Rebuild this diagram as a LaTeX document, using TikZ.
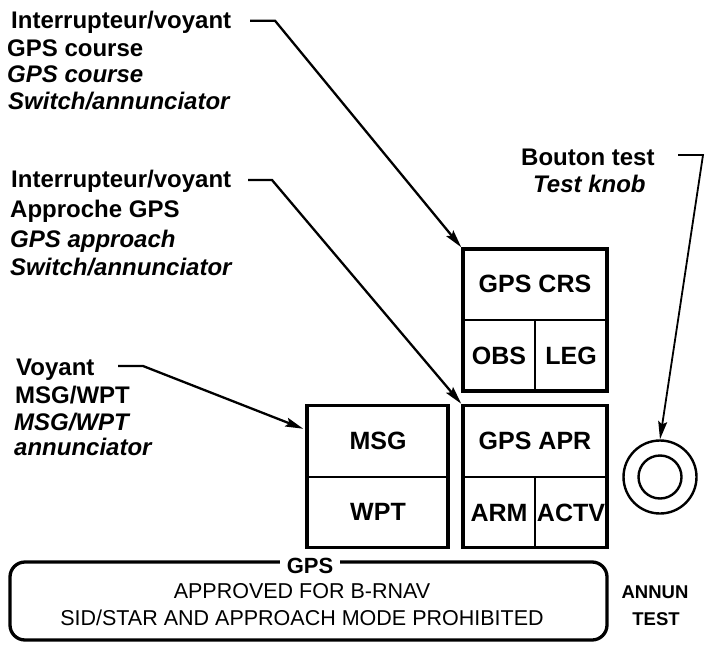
\documentclass[tikz,border=0pt]{standalone}
\usepackage{fontspec}
\setmainfont{Liberation Sans}
\usetikzlibrary{arrows.meta}
\begin{document}
\begin{tikzpicture}[x=1pt,y=-1pt,
  lbl/.style={anchor=base west,inner sep=0pt,font=\fontsize{24}{27}\selectfont\bfseries},
  lbli/.style={lbl,font=\fontsize{24}{27}\selectfont\bfseries\itshape},
  cell/.style={inner sep=0pt,font=\fontsize{25}{28}\selectfont\bfseries},
  unitbox/.style={draw,line width=3.5pt,minimum width=144pt,minimum height=142pt,inner sep=0pt},
  divider/.style={line width=2.2pt},
  lead/.style={line width=2.3pt,-{Stealth[length=18pt,width=9pt,inset=3pt]}},
  plate/.style={anchor=base,inner sep=0pt,font=\fontsize{21.5}{25}\selectfont},
]
\useasboundingbox (0,0) rectangle (708,644);

% labels
\node[lbl]  (l1a) at (11,29)    {Interrupteur/voyant};
\node[lbl]  (l1b) at (7,56.5)   {GPS course};
\node[lbli] (l1c) at (7,83)     {GPS course};
\node[lbli] (l1d) at (8,109.5)  {Switch/annunciator};

\node[lbl]  (l2a) at (11,188)   {Interrupteur/voyant};
\node[lbl]  (l2b) at (10,218)   {Approche GPS};
\node[lbli] (l2c) at (10,247)   {GPS approach};
\node[lbli] (l2d) at (10,275)   {Switch/annunciator};

\node[lbl]  (l3a) at (16,375)   {Voyant};
\node[lbl]  (l3b) at (15,403)   {MSG/WPT};
\node[lbli] (l3c) at (14,430)   {MSG/WPT};
\node[lbli] (l3d) at (14,455)   {annunciator};

\node[lbl]  (l4a) at (521,166)  {Bouton test};
\node[lbli] (l4b) at (533,193)  {Test knob};

% GPS CRS unit
\node[unitbox] (crs) at (535,320) {};
\draw[divider] (crs.west |- 0,320) -- (crs.east |- 0,320);
\draw[divider] (535,320) -- (crs.south -| 535,0);
\node[cell] (crsT) at (535,284) {GPS CRS};
\node[cell] (obs)  at (499,356) {OBS};
\node[cell] (leg)  at (571,356) {LEG};

% GPS APR unit
\node[unitbox] (apr) at (535,476.5) {};
\draw[divider] (apr.west |- 0,477) -- (apr.east |- 0,477);
\draw[divider] (535,477) -- (apr.south -| 535,0);
\node[cell] (aprT) at (535,441) {GPS APR};
\node[cell] (arm)  at (499,513) {ARM};
\node[cell] (actv) at (571,513) {ACTV};

% MSG / WPT unit
\node[unitbox,minimum width=141pt] (msg) at (377.5,476.5) {};
\draw[divider] (msg.west |- 0,477) -- (msg.east |- 0,477);
\node[cell] (msgT) at (378,441) {MSG};
\node[cell] (wpt)  at (378,512) {WPT};

% test knob
\node[circle,draw,line width=2.4pt,minimum size=73pt,inner sep=0pt] (knob) at (660,477) {};
\node[circle,draw,line width=2.4pt,minimum size=43pt,inner sep=0pt] (knobin) at (660,477) {};

% placard
\node[draw,line width=3.3pt,rounded corners=15pt,minimum width=597pt,minimum height=78pt,inner sep=0pt] (plate) at (308.5,601) {};
\node[fill=white,inner xsep=7pt,inner ysep=1pt,font=\fontsize{22}{24}\selectfont\bfseries] (gps) at (310,566) {GPS};
\node[plate] (appr) at (302,598) {APPROVED FOR B-RNAV};
\node[plate] (sid)  at (302,625) {SID/STAR AND APPROACH MODE PROHIBITED};
\node[plate,font=\fontsize{18.5}{22}\selectfont\bfseries] (annun) at (655,598) {ANNUN};
\node[plate,font=\fontsize{18.5}{22}\selectfont\bfseries] (test)  at (656,625) {TEST};

% leaders
\coordinate (s1) at (250,20.7);  \coordinate (k1) at (275,20.7);
\coordinate (s2) at (248,180);   \coordinate (k2) at (272,180);
\coordinate (s3) at (118,366);   \coordinate (k3) at (143,366);
\coordinate (s4) at (678,155);   \coordinate (k4) at (703,155);
\draw[lead] (s1) -- (k1) -- (crs.north west);
\draw[lead] (s2) -- (k2) -- (apr.north west);
\draw[lead] (s3) -- (k3) -- ([xshift=-2pt,yshift=-25pt]msg.north west);
\draw[lead,line width=1.8pt] (s4) -- (k4) -- (knob.north);
\end{tikzpicture}
\end{document}
